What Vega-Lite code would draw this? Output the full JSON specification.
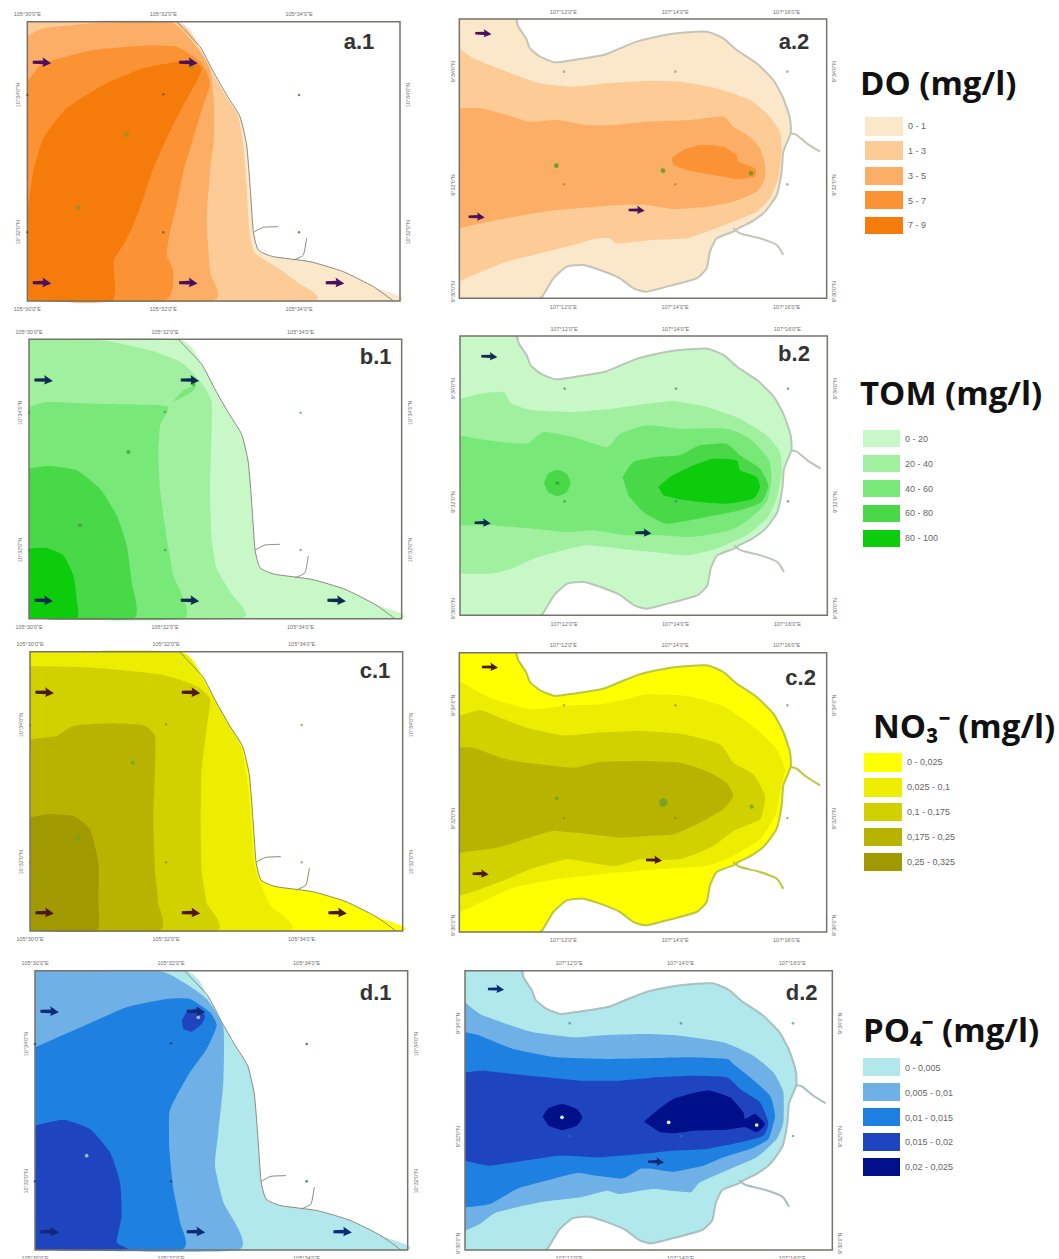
{"$schema":"https://vega.github.io/schema/vega-lite/v6.json","padding":{"left":10,"top":5,"right":0,"bottom":0},"background":"white","spacing":0,
"config":{"view":{"stroke":null},"legend":{"disable":true},"line":{"interpolate":"cardinal","tension":0.5},"range":{"category":["#FBE7C9","#FDCB96","#FDAE66","#FB9233","#F57C0A","#FFFF00","#EDED00","#D1D100","#B8B300","#A09A00","#B0E8EC","#6FB0E6","#1E80E0","#1F44C0","#00108A","#C8F8C8","#A0F0A0","#78E878","#48D848","#0CCC0C"]}},
"datasets":{
"seaL":[{"x":0,"y":0},{"x":448,"y":0},{"x":518,"y":75},{"x":558,"y":150},{"x":598,"y":220},{"x":638,"y":285},{"x":658,"y":370},{"x":668,"y":490},{"x":678,"y":630},{"x":693,"y":685},{"x":738,"y":705},{"x":848,"y":720},{"x":948,"y":750},{"x":1038,"y":795},{"x":1098,"y":838},{"x":0,"y":838}],
"seaR":[{"x":0,"y":0},{"x":170,"y":0},{"x":177,"y":23},{"x":200,"y":58},{"x":212,"y":88},{"x":242,"y":113},{"x":287,"y":130},{"x":342,"y":123},{"x":432,"y":108},{"x":482,"y":88},{"x":532,"y":68},{"x":592,"y":53},{"x":652,"y":43},{"x":742,"y":38},{"x":792,"y":58},{"x":832,"y":93},{"x":892,"y":133},{"x":942,"y":183},{"x":972,"y":238},{"x":992,"y":298},{"x":994,"y":343},{"x":972,"y":398},{"x":967,"y":458},{"x":952,"y":528},{"x":917,"y":578},{"x":877,"y":608},{"x":837,"y":628},{"x":822,"y":638},{"x":772,"y":658},{"x":752,"y":698},{"x":742,"y":748},{"x":712,"y":778},{"x":642,"y":798},{"x":562,"y":818},{"x":522,"y":808},{"x":482,"y":778},{"x":422,"y":753},{"x":372,"y":738},{"x":322,"y":743},{"x":282,"y":778},{"x":252,"y":828},{"x":242,"y":838},{"x":0,"y":838}],
"coastL":[{"k":"c","x":448,"y":0},{"k":"c","x":518,"y":75},{"k":"c","x":558,"y":150},{"k":"c","x":598,"y":220},{"k":"c","x":638,"y":285},{"k":"c","x":658,"y":370},{"k":"c","x":668,"y":490},{"k":"c","x":678,"y":630},{"k":"c","x":693,"y":685},{"k":"c","x":738,"y":705},{"k":"c","x":848,"y":720},{"k":"c","x":948,"y":750},{"k":"c","x":1038,"y":795},{"k":"c","x":1098,"y":838},{"k":"r1","x":678,"y":632},{"k":"r1","x":708,"y":617},{"k":"r1","x":753,"y":615},{"k":"r2","x":838,"y":650},{"k":"r2","x":828,"y":700},{"k":"r2","x":798,"y":715}],
"coastR":[{"k":"c","x":170,"y":0},{"k":"c","x":177,"y":23},{"k":"c","x":200,"y":58},{"k":"c","x":212,"y":88},{"k":"c","x":242,"y":113},{"k":"c","x":287,"y":130},{"k":"c","x":342,"y":123},{"k":"c","x":432,"y":108},{"k":"c","x":482,"y":88},{"k":"c","x":532,"y":68},{"k":"c","x":592,"y":53},{"k":"c","x":652,"y":43},{"k":"c","x":742,"y":38},{"k":"c","x":792,"y":58},{"k":"c","x":832,"y":93},{"k":"c","x":892,"y":133},{"k":"c","x":942,"y":183},{"k":"c","x":972,"y":238},{"k":"c","x":992,"y":298},{"k":"c","x":994,"y":343},{"k":"c","x":972,"y":398},{"k":"c","x":967,"y":458},{"k":"c","x":952,"y":528},{"k":"c","x":917,"y":578},{"k":"c","x":877,"y":608},{"k":"c","x":837,"y":628},{"k":"c","x":822,"y":638},{"k":"c","x":772,"y":658},{"k":"c","x":752,"y":698},{"k":"c","x":742,"y":748},{"k":"c","x":712,"y":778},{"k":"c","x":642,"y":798},{"k":"c","x":562,"y":818},{"k":"c","x":522,"y":808},{"k":"c","x":482,"y":778},{"k":"c","x":422,"y":753},{"k":"c","x":372,"y":738},{"k":"c","x":322,"y":743},{"k":"c","x":282,"y":778},{"k":"c","x":252,"y":828},{"k":"c","x":242,"y":838},{"k":"t1","x":994,"y":343},{"k":"t1","x":1012,"y":348},{"k":"t1","x":1042,"y":373},{"k":"t1","x":1082,"y":398},{"k":"t2","x":822,"y":628},{"k":"t2","x":842,"y":643},{"k":"t2","x":902,"y":658},{"k":"t2","x":952,"y":678},{"k":"t2","x":972,"y":708}],
"frameL":[{"x":0,"x2":1118,"y":0,"y2":838}],
"frameR":[{"x":0,"x2":1102,"y":0,"y2":838}],
"gridL":[{"x":408,"y":218},{"x":815,"y":220},{"x":408,"y":632},{"x":815,"y":632},{"x":0,"y":220},{"x":0,"y":632}],
"gridR":[{"x":314,"y":158},{"x":648,"y":158},{"x":984,"y":158},{"x":314,"y":496},{"x":648,"y":496},{"x":984,"y":496}],
"greenL":[{"x":298,"y":338},{"x":153,"y":558},{"x":493,"y":135}],
"greenR":[{"x":291,"y":440},{"x":611,"y":455},{"x":875,"y":463}],
"arrowsL":[{"x":44,"y":122},{"x":483,"y":122},{"x":44,"y":783},{"x":483,"y":783},{"x":923,"y":783}],
"hLabL":[{"s":"105°30'0\"E","x":0,"y":-22},{"s":"105°32'0\"E","x":408,"y":-22},{"s":"105°34'0\"E","x":815,"y":-22},{"s":"105°30'0\"E","x":0,"y":862},{"s":"105°32'0\"E","x":408,"y":862},{"s":"105°34'0\"E","x":815,"y":862}],
"vLabL":[{"s":"10°34'0\"N","x":-27,"y":220},{"s":"10°32'0\"N","x":-27,"y":632},{"s":"10°34'0\"N","x":1142,"y":220},{"s":"10°32'0\"N","x":1142,"y":632}],
"hLabR":[{"s":"107°12'0\"E","x":312,"y":-22},{"s":"107°14'0\"E","x":647,"y":-22},{"s":"107°16'0\"E","x":982,"y":-22},{"s":"107°12'0\"E","x":312,"y":863},{"s":"107°14'0\"E","x":647,"y":863},{"s":"107°16'0\"E","x":982,"y":863}],
"vLabR":[{"s":"9°34'0\"N","x":-20,"y":158},{"s":"9°32'0\"N","x":-20,"y":498},{"s":"9°30'0\"N","x":-20,"y":818},{"s":"9°34'0\"N","x":1124,"y":158},{"s":"9°32'0\"N","x":1124,"y":498},{"s":"9°30'0\"N","x":1124,"y":818}],
"a1":[{"b":"DO2","x":0,"y":0},{"b":"DO2","x":443,"y":0},{"b":"DO2","x":513,"y":75},{"b":"DO2","x":553,"y":150},{"b":"DO2","x":593,"y":220},{"b":"DO2","x":633,"y":285},{"b":"DO2","x":648,"y":370},{"b":"DO2","x":658,"y":490},{"b":"DO2","x":666,"y":630},{"b":"DO2","x":683,"y":695},{"b":"DO2","x":738,"y":730},{"b":"DO2","x":808,"y":780},{"b":"DO2","x":848,"y":838},{"b":"DO2","x":0,"y":838},
{"b":"DO3","x":0,"y":45},{"b":"DO3","x":48,"y":20},{"b":"DO3","x":198,"y":5},{"b":"DO3","x":428,"y":0},{"b":"DO3","x":508,"y":75},{"b":"DO3","x":548,"y":140},{"b":"DO3","x":560,"y":240},{"b":"DO3","x":560,"y":350},{"b":"DO3","x":548,"y":450},{"b":"DO3","x":538,"y":600},{"b":"DO3","x":548,"y":750},{"b":"DO3","x":553,"y":838},{"b":"DO3","x":0,"y":838},
{"b":"DO4","x":0,"y":180},{"b":"DO4","x":48,"y":125},{"b":"DO4","x":198,"y":85},{"b":"DO4","x":348,"y":72},{"b":"DO4","x":448,"y":75},{"b":"DO4","x":513,"y":115},{"b":"DO4","x":538,"y":150},{"b":"DO4","x":548,"y":190},{"b":"DO4","x":528,"y":250},{"b":"DO4","x":498,"y":350},{"b":"DO4","x":468,"y":450},{"b":"DO4","x":448,"y":550},{"b":"DO4","x":428,"y":630},{"b":"DO4","x":418,"y":700},{"b":"DO4","x":438,"y":750},{"b":"DO4","x":408,"y":838},{"b":"DO4","x":0,"y":838},
{"b":"DO5","x":0,"y":570},{"b":"DO5","x":18,"y":450},{"b":"DO5","x":48,"y":350},{"b":"DO5","x":118,"y":260},{"b":"DO5","x":228,"y":190},{"b":"DO5","x":348,"y":140},{"b":"DO5","x":488,"y":115},{"b":"DO5","x":523,"y":140},{"b":"DO5","x":508,"y":180},{"b":"DO5","x":468,"y":250},{"b":"DO5","x":418,"y":350},{"b":"DO5","x":378,"y":440},{"b":"DO5","x":348,"y":530},{"b":"DO5","x":318,"y":610},{"b":"DO5","x":288,"y":670},{"b":"DO5","x":258,"y":720},{"b":"DO5","x":253,"y":838},{"b":"DO5","x":0,"y":838}],
"b1":[{"b":"TM2","x":0,"y":0},{"b":"TM2","x":200,"y":0},{"b":"TM2","x":363,"y":33},{"b":"TM2","x":463,"y":73},{"b":"TM2","x":523,"y":138},{"b":"TM2","x":548,"y":188},{"b":"TM2","x":548,"y":268},{"b":"TM2","x":543,"y":448},{"b":"TM2","x":548,"y":598},{"b":"TM2","x":563,"y":688},{"b":"TM2","x":603,"y":758},{"b":"TM2","x":633,"y":838},{"b":"TM2","x":0,"y":838},
{"b":"TM3","x":0,"y":203},{"b":"TM3","x":53,"y":188},{"b":"TM3","x":193,"y":193},{"b":"TM3","x":413,"y":200},{"b":"TM3","x":393,"y":258},{"b":"TM3","x":388,"y":348},{"b":"TM3","x":393,"y":448},{"b":"TM3","x":413,"y":598},{"b":"TM3","x":433,"y":708},{"b":"TM3","x":463,"y":838},{"b":"TM3","x":0,"y":838},
{"b":"TM3","p":"s","x":433,"y":186},{"b":"TM3","p":"s","x":463,"y":153},{"b":"TM3","p":"s","x":503,"y":138},{"b":"TM3","p":"s","x":488,"y":158},{"b":"TM3","p":"s","x":443,"y":183},
{"b":"TM4","x":0,"y":388},{"b":"TM4","x":63,"y":380},{"b":"TM4","x":143,"y":393},{"b":"TM4","x":213,"y":448},{"b":"TM4","x":263,"y":528},{"b":"TM4","x":293,"y":618},{"b":"TM4","x":308,"y":728},{"b":"TM4","x":313,"y":838},{"b":"TM4","x":0,"y":838},
{"b":"TM5","x":0,"y":628},{"b":"TM5","x":53,"y":626},{"b":"TM5","x":103,"y":648},{"b":"TM5","x":133,"y":708},{"b":"TM5","x":143,"y":778},{"b":"TM5","x":143,"y":838},{"b":"TM5","x":0,"y":838}],
"c1":[{"b":"NO2","x":0,"y":0},{"b":"NO2","x":448,"y":0},{"b":"NO2","x":513,"y":75},{"b":"NO2","x":558,"y":150},{"b":"NO2","x":598,"y":220},{"b":"NO2","x":633,"y":285},{"b":"NO2","x":650,"y":370},{"b":"NO2","x":662,"y":490},{"b":"NO2","x":672,"y":630},{"b":"NO2","x":688,"y":690},{"b":"NO2","x":720,"y":760},{"b":"NO2","x":770,"y":838},{"b":"NO2","x":0,"y":838},
{"b":"NO3","x":0,"y":43},{"b":"NO3","x":190,"y":48},{"b":"NO3","x":390,"y":68},{"b":"NO3","x":500,"y":103},{"b":"NO3","x":540,"y":143},{"b":"NO3","x":530,"y":233},{"b":"NO3","x":515,"y":353},{"b":"NO3","x":512,"y":503},{"b":"NO3","x":515,"y":653},{"b":"NO3","x":530,"y":753},{"b":"NO3","x":555,"y":838},{"b":"NO3","x":0,"y":838},
{"b":"NO4","x":0,"y":263},{"b":"NO4","x":80,"y":253},{"b":"NO4","x":130,"y":223},{"b":"NO4","x":240,"y":215},{"b":"NO4","x":340,"y":221},{"b":"NO4","x":375,"y":253},{"b":"NO4","x":375,"y":353},{"b":"NO4","x":370,"y":503},{"b":"NO4","x":375,"y":653},{"b":"NO4","x":385,"y":753},{"b":"NO4","x":385,"y":838},{"b":"NO4","x":0,"y":838},
{"b":"NO5","x":0,"y":498},{"b":"NO5","x":50,"y":488},{"b":"NO5","x":130,"y":493},{"b":"NO5","x":180,"y":533},{"b":"NO5","x":205,"y":633},{"b":"NO5","x":205,"y":753},{"b":"NO5","x":198,"y":838},{"b":"NO5","x":0,"y":838}],
"d1":[{"b":"PO2","x":0,"y":0},{"b":"PO2","x":365,"y":0},{"b":"PO2","x":445,"y":35},{"b":"PO2","x":515,"y":85},{"b":"PO2","x":565,"y":170},{"b":"PO2","x":565,"y":335},{"b":"PO2","x":550,"y":485},{"b":"PO2","x":540,"y":585},{"b":"PO2","x":565,"y":695},{"b":"PO2","x":610,"y":838},{"b":"PO2","x":0,"y":838},
{"b":"PO3","x":0,"y":230},{"b":"PO3","x":125,"y":175},{"b":"PO3","x":275,"y":110},{"b":"PO3","x":395,"y":85},{"b":"PO3","x":465,"y":85},{"b":"PO3","x":525,"y":125},{"b":"PO3","x":545,"y":165},{"b":"PO3","x":515,"y":235},{"b":"PO3","x":465,"y":305},{"b":"PO3","x":425,"y":375},{"b":"PO3","x":403,"y":425},{"b":"PO3","x":403,"y":535},{"b":"PO3","x":415,"y":655},{"b":"PO3","x":435,"y":755},{"b":"PO3","x":437,"y":838},{"b":"PO3","x":0,"y":838},
{"b":"PO4","x":0,"y":465},{"b":"PO4","x":85,"y":447},{"b":"PO4","x":165,"y":475},{"b":"PO4","x":225,"y":545},{"b":"PO4","x":255,"y":635},{"b":"PO4","x":260,"y":735},{"b":"PO4","x":245,"y":815},{"b":"PO4","x":275,"y":838},{"b":"PO4","x":0,"y":838},
{"b":"PO4","p":"s","x":440,"y":150},{"b":"PO4","p":"s","x":455,"y":125},{"b":"PO4","p":"s","x":485,"y":113},{"b":"PO4","p":"s","x":510,"y":135},{"b":"PO4","p":"s","x":500,"y":160},{"b":"PO4","p":"s","x":470,"y":183},{"b":"PO4","p":"s","x":445,"y":175}],
"a2":[{"b":"DO2","x":0,"y":88},{"b":"DO2","x":42,"y":118},{"b":"DO2","x":142,"y":158},{"b":"DO2","x":242,"y":193},{"b":"DO2","x":342,"y":203},{"b":"DO2","x":442,"y":193},{"b":"DO2","x":562,"y":186},{"b":"DO2","x":662,"y":188},{"b":"DO2","x":772,"y":208},{"b":"DO2","x":872,"y":243},{"b":"DO2","x":927,"y":288},{"b":"DO2","x":962,"y":338},{"b":"DO2","x":967,"y":398},{"b":"DO2","x":957,"y":478},{"b":"DO2","x":932,"y":538},{"b":"DO2","x":892,"y":578},{"b":"DO2","x":822,"y":608},{"b":"DO2","x":742,"y":638},{"b":"DO2","x":682,"y":658},{"b":"DO2","x":582,"y":663},{"b":"DO2","x":472,"y":673},{"b":"DO2","x":452,"y":658},{"b":"DO2","x":412,"y":658},{"b":"DO2","x":342,"y":678},{"b":"DO2","x":242,"y":703},{"b":"DO2","x":142,"y":728},{"b":"DO2","x":42,"y":768},{"b":"DO2","x":0,"y":788},
{"b":"DO3","x":0,"y":268},{"b":"DO3","x":62,"y":268},{"b":"DO3","x":142,"y":288},{"b":"DO3","x":212,"y":308},{"b":"DO3","x":292,"y":303},{"b":"DO3","x":382,"y":318},{"b":"DO3","x":462,"y":318},{"b":"DO3","x":562,"y":308},{"b":"DO3","x":692,"y":303},{"b":"DO3","x":792,"y":293},{"b":"DO3","x":822,"y":323},{"b":"DO3","x":872,"y":353},{"b":"DO3","x":902,"y":388},{"b":"DO3","x":917,"y":438},{"b":"DO3","x":917,"y":478},{"b":"DO3","x":892,"y":518},{"b":"DO3","x":822,"y":548},{"b":"DO3","x":742,"y":563},{"b":"DO3","x":642,"y":570},{"b":"DO3","x":562,"y":558},{"b":"DO3","x":482,"y":558},{"b":"DO3","x":412,"y":563},{"b":"DO3","x":292,"y":573},{"b":"DO3","x":192,"y":588},{"b":"DO3","x":42,"y":618},{"b":"DO3","x":0,"y":628},
{"b":"DO4","x":637,"y":418},{"b":"DO4","x":672,"y":393},{"b":"DO4","x":722,"y":378},{"b":"DO4","x":792,"y":383},{"b":"DO4","x":832,"y":408},{"b":"DO4","x":837,"y":428},{"b":"DO4","x":887,"y":448},{"b":"DO4","x":887,"y":473},{"b":"DO4","x":832,"y":480},{"b":"DO4","x":762,"y":468},{"b":"DO4","x":682,"y":453},{"b":"DO4","x":642,"y":438}],
"b2":[{"b":"TM2","x":0,"y":188},{"b":"TM2","x":60,"y":173},{"b":"TM2","x":130,"y":168},{"b":"TM2","x":155,"y":203},{"b":"TM2","x":220,"y":223},{"b":"TM2","x":340,"y":228},{"b":"TM2","x":440,"y":220},{"b":"TM2","x":540,"y":206},{"b":"TM2","x":640,"y":196},{"b":"TM2","x":740,"y":213},{"b":"TM2","x":840,"y":248},{"b":"TM2","x":920,"y":298},{"b":"TM2","x":960,"y":348},{"b":"TM2","x":965,"y":408},{"b":"TM2","x":950,"y":488},{"b":"TM2","x":920,"y":548},{"b":"TM2","x":860,"y":598},{"b":"TM2","x":770,"y":638},{"b":"TM2","x":680,"y":658},{"b":"TM2","x":580,"y":648},{"b":"TM2","x":480,"y":638},{"b":"TM2","x":380,"y":628},{"b":"TM2","x":290,"y":648},{"b":"TM2","x":220,"y":668},{"b":"TM2","x":155,"y":698},{"b":"TM2","x":90,"y":713},{"b":"TM2","x":0,"y":713},
{"b":"TM3","x":0,"y":298},{"b":"TM3","x":80,"y":313},{"b":"TM3","x":200,"y":323},{"b":"TM3","x":250,"y":288},{"b":"TM3","x":340,"y":303},{"b":"TM3","x":440,"y":333},{"b":"TM3","x":480,"y":293},{"b":"TM3","x":560,"y":268},{"b":"TM3","x":660,"y":278},{"b":"TM3","x":800,"y":278},{"b":"TM3","x":870,"y":308},{"b":"TM3","x":925,"y":368},{"b":"TM3","x":935,"y":428},{"b":"TM3","x":920,"y":498},{"b":"TM3","x":870,"y":548},{"b":"TM3","x":810,"y":583},{"b":"TM3","x":700,"y":603},{"b":"TM3","x":600,"y":598},{"b":"TM3","x":500,"y":598},{"b":"TM3","x":400,"y":583},{"b":"TM3","x":320,"y":588},{"b":"TM3","x":220,"y":578},{"b":"TM3","x":90,"y":568},{"b":"TM3","x":0,"y":568},
{"b":"TM4","x":488,"y":423},{"b":"TM4","x":520,"y":378},{"b":"TM4","x":590,"y":363},{"b":"TM4","x":660,"y":358},{"b":"TM4","x":720,"y":328},{"b":"TM4","x":800,"y":323},{"b":"TM4","x":840,"y":358},{"b":"TM4","x":900,"y":398},{"b":"TM4","x":925,"y":448},{"b":"TM4","x":905,"y":498},{"b":"TM4","x":840,"y":523},{"b":"TM4","x":740,"y":543},{"b":"TM4","x":620,"y":563},{"b":"TM4","x":550,"y":528},{"b":"TM4","x":505,"y":478},
{"b":"TM4","p":"s","x":252,"y":441},{"b":"TM4","p":"s","x":264,"y":413},{"b":"TM4","p":"s","x":292,"y":401},{"b":"TM4","p":"s","x":320,"y":413},{"b":"TM4","p":"s","x":332,"y":441},{"b":"TM4","p":"s","x":320,"y":469},{"b":"TM4","p":"s","x":292,"y":481},{"b":"TM4","p":"s","x":264,"y":469},
{"b":"TM5","x":595,"y":453},{"b":"TM5","x":630,"y":423},{"b":"TM5","x":700,"y":388},{"b":"TM5","x":760,"y":368},{"b":"TM5","x":830,"y":373},{"b":"TM5","x":840,"y":403},{"b":"TM5","x":890,"y":423},{"b":"TM5","x":900,"y":453},{"b":"TM5","x":880,"y":488},{"b":"TM5","x":800,"y":503},{"b":"TM5","x":720,"y":498},{"b":"TM5","x":650,"y":488},{"b":"TM5","x":610,"y":478}],
"c2":[{"b":"NO2","x":0,"y":85},{"b":"NO2","x":92,"y":135},{"b":"NO2","x":212,"y":170},{"b":"NO2","x":312,"y":160},{"b":"NO2","x":422,"y":155},{"b":"NO2","x":502,"y":140},{"b":"NO2","x":562,"y":125},{"b":"NO2","x":682,"y":130},{"b":"NO2","x":792,"y":160},{"b":"NO2","x":892,"y":230},{"b":"NO2","x":952,"y":290},{"b":"NO2","x":977,"y":350},{"b":"NO2","x":962,"y":420},{"b":"NO2","x":947,"y":490},{"b":"NO2","x":902,"y":560},{"b":"NO2","x":822,"y":610},{"b":"NO2","x":742,"y":640},{"b":"NO2","x":592,"y":650},{"b":"NO2","x":422,"y":665},{"b":"NO2","x":292,"y":680},{"b":"NO2","x":162,"y":705},{"b":"NO2","x":42,"y":760},{"b":"NO2","x":0,"y":780},
{"b":"NO3","x":0,"y":190},{"b":"NO3","x":62,"y":172},{"b":"NO3","x":122,"y":195},{"b":"NO3","x":202,"y":225},{"b":"NO3","x":312,"y":248},{"b":"NO3","x":412,"y":240},{"b":"NO3","x":542,"y":235},{"b":"NO3","x":672,"y":245},{"b":"NO3","x":782,"y":275},{"b":"NO3","x":822,"y":330},{"b":"NO3","x":882,"y":365},{"b":"NO3","x":917,"y":430},{"b":"NO3","x":902,"y":500},{"b":"NO3","x":822,"y":535},{"b":"NO3","x":762,"y":580},{"b":"NO3","x":662,"y":620},{"b":"NO3","x":542,"y":620},{"b":"NO3","x":472,"y":640},{"b":"NO3","x":392,"y":630},{"b":"NO3","x":322,"y":620},{"b":"NO3","x":212,"y":650},{"b":"NO3","x":142,"y":680},{"b":"NO3","x":62,"y":710},{"b":"NO3","x":0,"y":730},
{"b":"NO4","x":0,"y":285},{"b":"NO4","x":42,"y":285},{"b":"NO4","x":142,"y":320},{"b":"NO4","x":242,"y":335},{"b":"NO4","x":342,"y":345},{"b":"NO4","x":422,"y":328},{"b":"NO4","x":542,"y":325},{"b":"NO4","x":662,"y":330},{"b":"NO4","x":742,"y":355},{"b":"NO4","x":802,"y":390},{"b":"NO4","x":822,"y":430},{"b":"NO4","x":792,"y":470},{"b":"NO4","x":722,"y":510},{"b":"NO4","x":642,"y":545},{"b":"NO4","x":562,"y":550},{"b":"NO4","x":482,"y":555},{"b":"NO4","x":392,"y":545},{"b":"NO4","x":282,"y":535},{"b":"NO4","x":212,"y":555},{"b":"NO4","x":112,"y":585},{"b":"NO4","x":0,"y":600}],
"d2":[{"b":"PO2","x":0,"y":95},{"b":"PO2","x":45,"y":130},{"b":"PO2","x":125,"y":160},{"b":"PO2","x":205,"y":185},{"b":"PO2","x":325,"y":200},{"b":"PO2","x":425,"y":193},{"b":"PO2","x":545,"y":190},{"b":"PO2","x":645,"y":195},{"b":"PO2","x":775,"y":215},{"b":"PO2","x":865,"y":255},{"b":"PO2","x":925,"y":305},{"b":"PO2","x":955,"y":365},{"b":"PO2","x":955,"y":455},{"b":"PO2","x":935,"y":505},{"b":"PO2","x":875,"y":560},{"b":"PO2","x":795,"y":595},{"b":"PO2","x":705,"y":635},{"b":"PO2","x":675,"y":665},{"b":"PO2","x":565,"y":655},{"b":"PO2","x":465,"y":670},{"b":"PO2","x":425,"y":660},{"b":"PO2","x":345,"y":680},{"b":"PO2","x":225,"y":695},{"b":"PO2","x":95,"y":725},{"b":"PO2","x":45,"y":760},{"b":"PO2","x":0,"y":780},
{"b":"PO3","x":0,"y":185},{"b":"PO3","x":45,"y":195},{"b":"PO3","x":145,"y":235},{"b":"PO3","x":275,"y":260},{"b":"PO3","x":425,"y":265},{"b":"PO3","x":545,"y":263},{"b":"PO3","x":675,"y":260},{"b":"PO3","x":785,"y":265},{"b":"PO3","x":805,"y":280},{"b":"PO3","x":855,"y":320},{"b":"PO3","x":915,"y":375},{"b":"PO3","x":930,"y":435},{"b":"PO3","x":910,"y":505},{"b":"PO3","x":855,"y":535},{"b":"PO3","x":775,"y":560},{"b":"PO3","x":715,"y":585},{"b":"PO3","x":625,"y":603},{"b":"PO3","x":565,"y":595},{"b":"PO3","x":525,"y":595},{"b":"PO3","x":475,"y":623},{"b":"PO3","x":395,"y":615},{"b":"PO3","x":335,"y":607},{"b":"PO3","x":225,"y":635},{"b":"PO3","x":155,"y":655},{"b":"PO3","x":75,"y":700},{"b":"PO3","x":0,"y":710},
{"b":"PO4","x":0,"y":305},{"b":"PO4","x":55,"y":300},{"b":"PO4","x":145,"y":310},{"b":"PO4","x":245,"y":320},{"b":"PO4","x":345,"y":330},{"b":"PO4","x":465,"y":330},{"b":"PO4","x":575,"y":320},{"b":"PO4","x":685,"y":315},{"b":"PO4","x":785,"y":320},{"b":"PO4","x":825,"y":355},{"b":"PO4","x":885,"y":395},{"b":"PO4","x":910,"y":455},{"b":"PO4","x":895,"y":495},{"b":"PO4","x":825,"y":515},{"b":"PO4","x":725,"y":535},{"b":"PO4","x":625,"y":540},{"b":"PO4","x":525,"y":550},{"b":"PO4","x":405,"y":560},{"b":"PO4","x":285,"y":555},{"b":"PO4","x":175,"y":570},{"b":"PO4","x":75,"y":585},{"b":"PO4","x":0,"y":570},
{"b":"PO5","p":"s","x":233,"y":438},{"b":"PO5","p":"s","x":250,"y":413},{"b":"PO5","p":"s","x":292,"y":400},{"b":"PO5","p":"s","x":335,"y":415},{"b":"PO5","p":"s","x":352,"y":440},{"b":"PO5","p":"s","x":335,"y":465},{"b":"PO5","p":"s","x":292,"y":478},{"b":"PO5","p":"s","x":250,"y":465},
{"b":"PO5","x":537,"y":453},{"b":"PO5","x":575,"y":420},{"b":"PO5","x":625,"y":385},{"b":"PO5","x":685,"y":367},{"b":"PO5","x":735,"y":360},{"b":"PO5","x":795,"y":380},{"b":"PO5","x":835,"y":425},{"b":"PO5","x":840,"y":445},{"b":"PO5","x":870,"y":430},{"b":"PO5","x":900,"y":460},{"b":"PO5","x":875,"y":485},{"b":"PO5","x":840,"y":470},{"b":"PO5","x":785,"y":477},{"b":"PO5","x":685,"y":480},{"b":"PO5","x":625,"y":488},{"b":"PO5","x":585,"y":485}]
},
"vconcat":[
{"spacing":0,"hconcat":[
{"width":430,"height":317,"encoding":{"x":{"field":"x","type":"quantitative","axis":null,"scale":{"domain":[-52,1238],"nice":false,"zero":false}},"y":{"field":"y","type":"quantitative","axis":null,"scale":{"domain":[-50,901],"reverse":true,"nice":false,"zero":false}}},"layer":[
{"data":{"name":"seaL"},"mark":{"type":"line","strokeWidth":0},"encoding":{"fill":{"datum":"DO1","type":"nominal"},"order":{"value":null}}},
{"data":{"name":"a1"},"mark":{"type":"line","strokeWidth":0},"encoding":{"fill":{"field":"b","type":"nominal"},"detail":{"field":"p"},"order":{"value":null}}},
{"data":{"name":"coastL"},"mark":{"type":"line","stroke":"#8a8a80","strokeWidth":1},"encoding":{"detail":{"field":"k"},"order":{"value":null}}},
{"data":{"name":"frameL"},"mark":{"type":"rect","filled":false,"stroke":"#77736a","strokeWidth":1.5},"encoding":{"x2":{"field":"x2"},"y2":{"field":"y2"}}},
{"data":{"name":"gridL"},"mark":{"type":"circle","size":6,"color":"#704020","opacity":0.7}},
{"data":{"name":"greenL"},"mark":{"type":"circle","size":22,"color":"#8a9a20","opacity":0.85}},
{"data":{"name":"arrowsL"},"mark":{"type":"point","filled":true,"opacity":1,"shape":"M-1,-.16L.15,-.2L.05,-.55L1,.1L.05,.5L.15,.2L-1,.16Z","size":340,"color":"#4a1060"}},
{"data":{"name":"hLabL"},"mark":{"type":"text","fontSize":5.5,"color":"#707070","font":"Liberation Sans"},"encoding":{"text":{"field":"s"}}},
{"data":{"name":"vLabL"},"mark":{"type":"text","fontSize":5.5,"color":"#707070","angle":270,"font":"Liberation Sans"},"encoding":{"text":{"field":"s"}}},
{"data":{"values":[{"s":"a.1","x":995,"y":62}]},"mark":{"type":"text","fontSize":22,"fontWeight":"bold","color":"#333333","font":"Liberation Sans"},"encoding":{"text":{"field":"s"}}}
]},
{"width":410,"height":317,"encoding":{"x":{"field":"x","type":"quantitative","axis":null,"scale":{"domain":[-58,1172],"nice":false,"zero":false}},"y":{"field":"y","type":"quantitative","axis":null,"scale":{"domain":[-42,909],"reverse":true,"nice":false,"zero":false}}},"layer":[
{"data":{"name":"seaR"},"mark":{"type":"line","strokeWidth":0},"encoding":{"fill":{"datum":"DO1","type":"nominal"},"order":{"value":null}}},
{"data":{"name":"a2"},"mark":{"type":"line","strokeWidth":0},"encoding":{"fill":{"field":"b","type":"nominal"},"detail":{"field":"p"},"order":{"value":null}}},
{"data":{"name":"coastR"},"mark":{"type":"line","stroke":"#c4c4b8","strokeWidth":2},"encoding":{"detail":{"field":"k"},"order":{"value":null}}},
{"data":{"name":"frameR"},"mark":{"type":"rect","filled":false,"stroke":"#77736a","strokeWidth":1.5},"encoding":{"x2":{"field":"x2"},"y2":{"field":"y2"}}},
{"data":{"name":"gridR"},"mark":{"type":"circle","size":7,"color":"#b07050","opacity":0.6}},
{"data":{"name":"greenR"},"mark":{"type":"circle","size":22,"color":"#6a9a20","opacity":0.9}},
{"data":{"values":[{"x":72,"y":43},{"x":52,"y":593},{"x":532,"y":573}]},"mark":{"type":"point","filled":true,"opacity":1,"shape":"M-1,-.16L.15,-.2L.05,-.55L1,.1L.05,.5L.15,.2L-1,.16Z","size":260,"color":"#4a1060"}},
{"data":{"name":"hLabR"},"mark":{"type":"text","fontSize":5.5,"color":"#707070","font":"Liberation Sans"},"encoding":{"text":{"field":"s"}}},
{"data":{"name":"vLabR"},"mark":{"type":"text","fontSize":5.5,"color":"#707070","angle":270,"font":"Liberation Sans"},"encoding":{"text":{"field":"s"}}},
{"data":{"values":[{"s":"a.2","x":1004,"y":70}]},"mark":{"type":"text","fontSize":22,"fontWeight":"bold","color":"#333333","font":"Liberation Sans"},"encoding":{"text":{"field":"s"}}}
]},
{"width":209,"height":317,"data":{"values":[{"b":"DO1","t":"0 - 1","x":15,"x2":53,"y":112,"y2":131,"tx":58,"ty":120.5},{"b":"DO2","t":"1 - 3","x":15,"x2":53,"y":136,"y2":155,"tx":58,"ty":146},{"b":"DO3","t":"3 - 5","x":15,"x2":53,"y":162,"y2":180,"tx":58,"ty":171},{"b":"DO4","t":"5 - 7","x":15,"x2":53,"y":186,"y2":204,"tx":58,"ty":195.5},{"b":"DO5","t":"7 - 9","x":15,"x2":53,"y":212,"y2":229,"tx":58,"ty":220}]},"encoding":{"y":{"field":"y","type":"quantitative","axis":null,"scale":{"domain":[0,317],"reverse":true,"nice":false,"zero":false}},"x":{"field":"x","type":"quantitative","axis":null,"scale":{"domain":[0,209],"nice":false,"zero":false}}},"layer":[
{"mark":{"type":"rect"},"encoding":{"fill":{"field":"b","type":"nominal"},"x2":{"field":"x2"},"y2":{"field":"y2"}}},
{"mark":{"type":"text","align":"left","fontSize":9,"color":"#666666","font":"Liberation Sans"},"encoding":{"x":{"field":"tx","type":"quantitative"},"y":{"field":"ty","type":"quantitative"},"text":{"field":"t"}}},
{"data":{"values":[{"s":"DO (mg/l)","x":10,"y":80}]},"mark":{"type":"text","align":"left","fontSize":33,"fontWeight":"bold","color":"#111111","font":"Open Sans"},"encoding":{"text":{"field":"s"}}}
]}
]},
{"spacing":0,"hconcat":[
{"width":430,"height":314,"encoding":{"x":{"field":"x","type":"quantitative","axis":null,"scale":{"domain":[-57,1233],"nice":false,"zero":false}},"y":{"field":"y","type":"quantitative","axis":null,"scale":{"domain":[-52,890],"reverse":true,"nice":false,"zero":false}}},"layer":[
{"data":{"name":"seaL"},"mark":{"type":"line","strokeWidth":0},"encoding":{"fill":{"datum":"TM1","type":"nominal"},"order":{"value":null}}},
{"data":{"name":"b1"},"mark":{"type":"line","strokeWidth":0},"encoding":{"fill":{"field":"b","type":"nominal"},"detail":{"field":"p"},"order":{"value":null}}},
{"data":{"name":"coastL"},"mark":{"type":"line","stroke":"#8a8a80","strokeWidth":1},"encoding":{"detail":{"field":"k"},"order":{"value":null}}},
{"data":{"name":"frameL"},"mark":{"type":"rect","filled":false,"stroke":"#77736a","strokeWidth":1.5},"encoding":{"x2":{"field":"x2"},"y2":{"field":"y2"}}},
{"data":{"name":"gridL"},"mark":{"type":"circle","size":6,"color":"#408040","opacity":0.6}},
{"data":{"name":"greenL"},"mark":{"type":"circle","size":16,"color":"#40a040","opacity":0.8}},
{"data":{"name":"arrowsL"},"mark":{"type":"point","filled":true,"opacity":1,"shape":"M-1,-.16L.15,-.2L.05,-.55L1,.1L.05,.5L.15,.2L-1,.16Z","size":340,"color":"#0e2a50"}},
{"data":{"name":"hLabL"},"mark":{"type":"text","fontSize":5.5,"color":"#707070","font":"Liberation Sans"},"encoding":{"text":{"field":"s"}}},
{"data":{"name":"vLabL"},"mark":{"type":"text","fontSize":5.5,"color":"#707070","angle":270,"font":"Liberation Sans"},"encoding":{"text":{"field":"s"}}},
{"data":{"values":[{"s":"b.1","x":1040,"y":53}]},"mark":{"type":"text","fontSize":22,"fontWeight":"bold","color":"#333333","font":"Liberation Sans"},"encoding":{"text":{"field":"s"}}}
]},
{"width":410,"height":314,"encoding":{"x":{"field":"x","type":"quantitative","axis":null,"scale":{"domain":[-60,1170],"nice":false,"zero":false}},"y":{"field":"y","type":"quantitative","axis":null,"scale":{"domain":[-42,900],"reverse":true,"nice":false,"zero":false}}},"layer":[
{"data":{"name":"seaR"},"mark":{"type":"line","strokeWidth":0},"encoding":{"fill":{"datum":"TM1","type":"nominal"},"order":{"value":null}}},
{"data":{"name":"b2"},"mark":{"type":"line","strokeWidth":0},"encoding":{"fill":{"field":"b","type":"nominal"},"detail":{"field":"p"},"order":{"value":null}}},
{"data":{"name":"coastR"},"mark":{"type":"line","stroke":"#b8c8b8","strokeWidth":2},"encoding":{"detail":{"field":"k"},"order":{"value":null}}},
{"data":{"name":"frameR"},"mark":{"type":"rect","filled":false,"stroke":"#77736a","strokeWidth":1.5},"encoding":{"x2":{"field":"x2"},"y2":{"field":"y2"}}},
{"data":{"name":"gridR"},"mark":{"type":"circle","size":7,"color":"#408040","opacity":0.6}},
{"data":{"values":[{"x":292,"y":441}]},"mark":{"type":"circle","size":14,"color":"#30a030","opacity":0.8}},
{"data":{"values":[{"x":88,"y":61},{"x":68,"y":560},{"x":550,"y":590}]},"mark":{"type":"point","filled":true,"opacity":1,"shape":"M-1,-.16L.15,-.2L.05,-.55L1,.1L.05,.5L.15,.2L-1,.16Z","size":260,"color":"#0e2a50"}},
{"data":{"name":"hLabR"},"mark":{"type":"text","fontSize":5.5,"color":"#707070","font":"Liberation Sans"},"encoding":{"text":{"field":"s"}}},
{"data":{"name":"vLabR"},"mark":{"type":"text","fontSize":5.5,"color":"#707070","angle":270,"font":"Liberation Sans"},"encoding":{"text":{"field":"s"}}},
{"data":{"values":[{"s":"b.2","x":1002,"y":55}]},"mark":{"type":"text","fontSize":22,"fontWeight":"bold","color":"#333333","font":"Liberation Sans"},"encoding":{"text":{"field":"s"}}}
]},
{"width":209,"height":314,"data":{"values":[{"b":"TM1","t":"0 - 20","x":13,"x2":50,"y":108,"y2":125,"tx":55,"ty":117},{"b":"TM2","t":"20 - 40","x":13,"x2":50,"y":133,"y2":150,"tx":55,"ty":142},{"b":"TM3","t":"40 - 60","x":13,"x2":50,"y":158,"y2":175,"tx":55,"ty":167},{"b":"TM4","t":"60 - 80","x":13,"x2":50,"y":183,"y2":200,"tx":55,"ty":191},{"b":"TM5","t":"80 - 100","x":13,"x2":50,"y":208,"y2":225,"tx":55,"ty":216}]},"encoding":{"y":{"field":"y","type":"quantitative","axis":null,"scale":{"domain":[0,314],"reverse":true,"nice":false,"zero":false}},"x":{"field":"x","type":"quantitative","axis":null,"scale":{"domain":[0,209],"nice":false,"zero":false}}},"layer":[
{"mark":{"type":"rect"},"encoding":{"fill":{"field":"b","type":"nominal"},"x2":{"field":"x2"},"y2":{"field":"y2"}}},
{"mark":{"type":"text","align":"left","fontSize":9,"color":"#666666","font":"Liberation Sans"},"encoding":{"x":{"field":"tx","type":"quantitative"},"y":{"field":"ty","type":"quantitative"},"text":{"field":"t"}}},
{"data":{"values":[{"s":"TOM (mg/l)","x":10,"y":73}]},"mark":{"type":"text","align":"left","fontSize":33,"fontWeight":"bold","color":"#111111","font":"Open Sans"},"encoding":{"text":{"field":"s"}}}
]}
]},
{"spacing":0,"hconcat":[
{"width":430,"height":313,"encoding":{"x":{"field":"x","type":"quantitative","axis":null,"scale":{"domain":[-60,1230],"nice":false,"zero":false}},"y":{"field":"y","type":"quantitative","axis":null,"scale":{"domain":[-47,892],"reverse":true,"nice":false,"zero":false}}},"layer":[
{"data":{"name":"seaL"},"mark":{"type":"line","strokeWidth":0},"encoding":{"fill":{"datum":"NO1","type":"nominal"},"order":{"value":null}}},
{"data":{"name":"c1"},"mark":{"type":"line","strokeWidth":0},"encoding":{"fill":{"field":"b","type":"nominal"},"detail":{"field":"p"},"order":{"value":null}}},
{"data":{"name":"coastL"},"mark":{"type":"line","stroke":"#8a8a60","strokeWidth":1},"encoding":{"detail":{"field":"k"},"order":{"value":null}}},
{"data":{"name":"frameL"},"mark":{"type":"rect","filled":false,"stroke":"#77736a","strokeWidth":1.5},"encoding":{"x2":{"field":"x2"},"y2":{"field":"y2"}}},
{"data":{"name":"gridL"},"mark":{"type":"circle","size":6,"color":"#a07020","opacity":0.6}},
{"data":{"values":[{"x":308,"y":333},{"x":145,"y":558}]},"mark":{"type":"circle","size":16,"color":"#50b030","opacity":0.8}},
{"data":{"name":"arrowsL"},"mark":{"type":"point","filled":true,"opacity":1,"shape":"M-1,-.16L.15,-.2L.05,-.55L1,.1L.05,.5L.15,.2L-1,.16Z","size":340,"color":"#4a1a10"}},
{"data":{"name":"hLabL"},"mark":{"type":"text","fontSize":5.5,"color":"#707070","font":"Liberation Sans"},"encoding":{"text":{"field":"s"}}},
{"data":{"name":"vLabL"},"mark":{"type":"text","fontSize":5.5,"color":"#707070","angle":270,"font":"Liberation Sans"},"encoding":{"text":{"field":"s"}}},
{"data":{"values":[{"s":"c.1","x":1035,"y":58}]},"mark":{"type":"text","fontSize":22,"fontWeight":"bold","color":"#333333","font":"Liberation Sans"},"encoding":{"text":{"field":"s"}}}
]},
{"width":410,"height":313,"encoding":{"x":{"field":"x","type":"quantitative","axis":null,"scale":{"domain":[-58,1172],"nice":false,"zero":false}},"y":{"field":"y","type":"quantitative","axis":null,"scale":{"domain":[-50,889],"reverse":true,"nice":false,"zero":false}}},"layer":[
{"data":{"name":"seaR"},"mark":{"type":"line","strokeWidth":0},"encoding":{"fill":{"datum":"NO1","type":"nominal"},"order":{"value":null}}},
{"data":{"name":"c2"},"mark":{"type":"line","strokeWidth":0},"encoding":{"fill":{"field":"b","type":"nominal"},"detail":{"field":"p"},"order":{"value":null}}},
{"data":{"name":"coastR"},"mark":{"type":"line","stroke":"#b8c840","strokeWidth":2},"encoding":{"detail":{"field":"k"},"order":{"value":null}}},
{"data":{"name":"frameR"},"mark":{"type":"rect","filled":false,"stroke":"#77736a","strokeWidth":1.5},"encoding":{"x2":{"field":"x2"},"y2":{"field":"y2"}}},
{"data":{"name":"gridR"},"mark":{"type":"circle","size":7,"color":"#a07030","opacity":0.6}},
{"data":{"values":[{"x":292,"y":437},{"x":877,"y":462}]},"mark":{"type":"circle","size":18,"color":"#70a830","opacity":0.9}},
{"data":{"values":[{"x":612,"y":450}]},"mark":{"type":"circle","size":70,"color":"#70a030","opacity":0.9}},
{"data":{"values":[{"x":92,"y":43},{"x":64,"y":663},{"x":584,"y":622}]},"mark":{"type":"point","filled":true,"opacity":1,"shape":"M-1,-.16L.15,-.2L.05,-.55L1,.1L.05,.5L.15,.2L-1,.16Z","size":260,"color":"#4a1a10"}},
{"data":{"name":"hLabR"},"mark":{"type":"text","fontSize":5.5,"color":"#707070","font":"Liberation Sans"},"encoding":{"text":{"field":"s"}}},
{"data":{"name":"vLabR"},"mark":{"type":"text","fontSize":5.5,"color":"#707070","angle":270,"font":"Liberation Sans"},"encoding":{"text":{"field":"s"}}},
{"data":{"values":[{"s":"c.2","x":1024,"y":75}]},"mark":{"type":"text","fontSize":22,"fontWeight":"bold","color":"#333333","font":"Liberation Sans"},"encoding":{"text":{"field":"s"}}}
]},
{"width":209,"height":313,"data":{"values":[{"b":"NO1","t":"0 - 0,025","x":14,"x2":52,"y":117,"y2":136,"tx":57,"ty":126},{"b":"NO2","t":"0,025 - 0,1","x":14,"x2":52,"y":142,"y2":161,"tx":57,"ty":151},{"b":"NO3","t":"0,1 - 0,175","x":14,"x2":52,"y":167,"y2":185,"tx":57,"ty":176},{"b":"NO4","t":"0,175 - 0,25","x":14,"x2":52,"y":192,"y2":210,"tx":57,"ty":201},{"b":"NO5","t":"0,25 - 0,325","x":14,"x2":52,"y":217,"y2":235,"tx":57,"ty":226}]},"encoding":{"y":{"field":"y","type":"quantitative","axis":null,"scale":{"domain":[0,313],"reverse":true,"nice":false,"zero":false}},"x":{"field":"x","type":"quantitative","axis":null,"scale":{"domain":[0,209],"nice":false,"zero":false}}},"layer":[
{"mark":{"type":"rect"},"encoding":{"fill":{"field":"b","type":"nominal"},"x2":{"field":"x2"},"y2":{"field":"y2"}}},
{"mark":{"type":"text","align":"left","fontSize":9,"color":"#666666","font":"Liberation Sans"},"encoding":{"x":{"field":"tx","type":"quantitative"},"y":{"field":"ty","type":"quantitative"},"text":{"field":"t"}}},
{"data":{"values":[{"s":"NO₃⁻ (mg/l)","x":23,"y":92}]},"mark":{"type":"text","align":"left","fontSize":33,"fontWeight":"bold","color":"#111111","font":"Open Sans"},"encoding":{"text":{"field":"s"}}}
]}
]},
{"spacing":0,"hconcat":[
{"width":430,"height":310,"encoding":{"x":{"field":"x","type":"quantitative","axis":null,"scale":{"domain":[-75,1215],"nice":false,"zero":false}},"y":{"field":"y","type":"quantitative","axis":null,"scale":{"domain":[-65,865],"reverse":true,"nice":false,"zero":false}}},"layer":[
{"data":{"name":"seaL"},"mark":{"type":"line","strokeWidth":0},"encoding":{"fill":{"datum":"PO1","type":"nominal"},"order":{"value":null}}},
{"data":{"name":"d1"},"mark":{"type":"line","strokeWidth":0},"encoding":{"fill":{"field":"b","type":"nominal"},"detail":{"field":"p"},"order":{"value":null}}},
{"data":{"name":"coastL"},"mark":{"type":"line","stroke":"#8a8a80","strokeWidth":1},"encoding":{"detail":{"field":"k"},"order":{"value":null}}},
{"data":{"name":"frameL"},"mark":{"type":"rect","filled":false,"stroke":"#77736a","strokeWidth":1.5},"encoding":{"x2":{"field":"x2"},"y2":{"field":"y2"}}},
{"data":{"name":"gridL"},"mark":{"type":"circle","size":7,"color":"#204070","opacity":0.7}},
{"data":{"values":[{"x":490,"y":140},{"x":155,"y":555}]},"mark":{"type":"circle","size":14,"color":"#a0c8c0","opacity":0.9}},
{"data":{"name":"arrowsL"},"mark":{"type":"point","filled":true,"opacity":1,"shape":"M-1,-.16L.15,-.2L.05,-.55L1,.1L.05,.5L.15,.2L-1,.16Z","size":340,"color":"#0c2a78"}},
{"data":{"name":"hLabL"},"mark":{"type":"text","fontSize":5.5,"color":"#707070","font":"Liberation Sans"},"encoding":{"text":{"field":"s"}}},
{"data":{"name":"vLabL"},"mark":{"type":"text","fontSize":5.5,"color":"#707070","angle":270,"font":"Liberation Sans"},"encoding":{"text":{"field":"s"}}},
{"data":{"values":[{"s":"d.1","x":1022,"y":67}]},"mark":{"type":"text","fontSize":22,"fontWeight":"bold","color":"#333333","font":"Liberation Sans"},"encoding":{"text":{"field":"s"}}}
]},
{"width":410,"height":310,"encoding":{"x":{"field":"x","type":"quantitative","axis":null,"scale":{"domain":[-75,1155],"nice":false,"zero":false}},"y":{"field":"y","type":"quantitative","axis":null,"scale":{"domain":[-65,865],"reverse":true,"nice":false,"zero":false}}},"layer":[
{"data":{"name":"seaR"},"mark":{"type":"line","strokeWidth":0},"encoding":{"fill":{"datum":"PO1","type":"nominal"},"order":{"value":null}}},
{"data":{"name":"d2"},"mark":{"type":"line","strokeWidth":0},"encoding":{"fill":{"field":"b","type":"nominal"},"detail":{"field":"p"},"order":{"value":null}}},
{"data":{"name":"coastR"},"mark":{"type":"line","stroke":"#a8c0c0","strokeWidth":2},"encoding":{"detail":{"field":"k"},"order":{"value":null}}},
{"data":{"name":"frameR"},"mark":{"type":"rect","filled":false,"stroke":"#77736a","strokeWidth":1.5},"encoding":{"x2":{"field":"x2"},"y2":{"field":"y2"}}},
{"data":{"name":"gridR"},"mark":{"type":"circle","size":7,"color":"#308080","opacity":0.6}},
{"data":{"name":"greenR"},"mark":{"type":"circle","size":14,"color":"#d8f0d0","opacity":1}},
{"data":{"values":[{"x":93,"y":55},{"x":573,"y":573}]},"mark":{"type":"point","filled":true,"opacity":1,"shape":"M-1,-.16L.15,-.2L.05,-.55L1,.1L.05,.5L.15,.2L-1,.16Z","size":260,"color":"#0c2a78"}},
{"data":{"name":"hLabR"},"mark":{"type":"text","fontSize":5.5,"color":"#707070","font":"Liberation Sans"},"encoding":{"text":{"field":"s"}}},
{"data":{"name":"vLabR"},"mark":{"type":"text","fontSize":5.5,"color":"#707070","angle":270,"font":"Liberation Sans"},"encoding":{"text":{"field":"s"}}},
{"data":{"values":[{"s":"d.2","x":1010,"y":67}]},"mark":{"type":"text","fontSize":22,"fontWeight":"bold","color":"#333333","font":"Liberation Sans"},"encoding":{"text":{"field":"s"}}}
]},
{"width":209,"height":310,"data":{"values":[{"b":"PO1","t":"0 - 0,005","x":13,"x2":50,"y":109,"y2":127,"tx":55,"ty":119},{"b":"PO2","t":"0,005 - 0,01","x":13,"x2":50,"y":134,"y2":152,"tx":55,"ty":144},{"b":"PO3","t":"0,01 - 0,015","x":13,"x2":50,"y":159,"y2":177,"tx":55,"ty":169},{"b":"PO4","t":"0,015 - 0,02","x":13,"x2":50,"y":184,"y2":202,"tx":55,"ty":193},{"b":"PO5","t":"0,02 - 0,025","x":13,"x2":50,"y":209,"y2":227,"tx":55,"ty":218}]},"encoding":{"y":{"field":"y","type":"quantitative","axis":null,"scale":{"domain":[0,310],"reverse":true,"nice":false,"zero":false}},"x":{"field":"x","type":"quantitative","axis":null,"scale":{"domain":[0,209],"nice":false,"zero":false}}},"layer":[
{"mark":{"type":"rect"},"encoding":{"fill":{"field":"b","type":"nominal"},"x2":{"field":"x2"},"y2":{"field":"y2"}}},
{"mark":{"type":"text","align":"left","fontSize":9,"color":"#666666","font":"Liberation Sans"},"encoding":{"x":{"field":"tx","type":"quantitative"},"y":{"field":"ty","type":"quantitative"},"text":{"field":"t"}}},
{"data":{"values":[{"s":"PO₄⁻ (mg/l)","x":13,"y":83}]},"mark":{"type":"text","align":"left","fontSize":33,"fontWeight":"bold","color":"#111111","font":"Open Sans"},"encoding":{"text":{"field":"s"}}}
]}
]}
]}
